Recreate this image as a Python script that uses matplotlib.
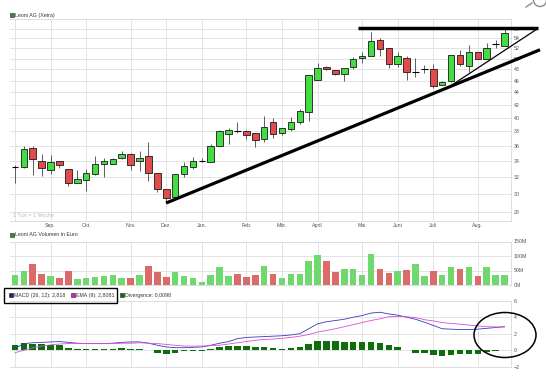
import matplotlib
matplotlib.use("Agg")
import matplotlib.pyplot as plt
from matplotlib.patches import Rectangle, Ellipse
from matplotlib.lines import Line2D
from matplotlib.ticker import FixedLocator, NullLocator

plt.rcParams["font.family"] = ["Liberation Sans", "DejaVu Sans"]

# weekly candles, week 0 = early August of the previous year
opens = [33.2, 33.2, 35.6, 34.0, 32.8, 33.9, 33.0, 31.3, 31.6, 32.3, 33.6, 33.6, 34.3, 34.9,
         33.9, 34.6, 32.5, 30.5, 29.6, 32.3, 33.2, 33.9, 33.8, 36.0, 37.6, 38.1, 38.1, 37.7,
         36.9, 39.3, 37.7, 38.3, 39.4, 40.8, 46.1, 48.5, 47.9, 47.1, 48.4, 50.1, 50.5, 53.7,
         52.0, 49.0, 50.2, 47.5, 48.0, 48.0, 45.2, 45.9, 50.7, 48.7, 51.2, 49.9, 52.8, 52.5]
highs = [33.4, 35.9, 35.9, 34.9, 34.7, 33.9, 33.0, 32.8, 32.9, 34.6, 34.4, 34.3, 35.3, 35.0,
         35.3, 36.5, 32.5, 30.5, 32.3, 33.8, 34.5, 34.3, 36.2, 38.2, 38.5, 39.3, 38.2, 37.7,
         40.3, 39.9, 38.5, 40.1, 41.4, 47.0, 49.1, 48.6, 47.9, 48.2, 50.3, 51.2, 55.2, 54.1,
         52.0, 51.3, 50.5, 50.2, 48.8, 49.0, 46.0, 50.7, 51.7, 52.6, 51.3, 53.0, 53.7, 56.0]
lows = [31.3, 33.1, 32.2, 32.1, 32.3, 33.1, 30.9, 31.2, 30.3, 32.2, 32.0, 33.6, 34.2, 32.8,
        32.7, 31.5, 30.2, 29.1, 29.6, 32.0, 33.0, 33.8, 33.8, 36.0, 36.2, 37.7, 36.9, 35.8,
        36.5, 37.1, 37.5, 38.1, 39.1, 39.5, 46.1, 47.9, 47.0, 45.9, 48.0, 49.2, 50.5, 50.4,
        48.3, 48.5, 46.1, 46.6, 47.3, 44.8, 45.2, 45.8, 48.6, 47.6, 50.0, 49.9, 52.0, 52.5]
closes = [33.2, 35.5, 34.2, 33.1, 33.8, 33.4, 31.2, 31.7, 32.4, 33.6, 33.9, 34.2, 34.9, 33.4,
          34.4, 32.4, 30.6, 29.5, 32.3, 33.3, 33.9, 33.9, 36.0, 38.0, 38.2, 38.1, 37.5, 36.8,
          38.6, 37.6, 38.4, 39.3, 41.0, 47.0, 48.2, 48.0, 47.2, 48.2, 49.9, 50.4, 53.5, 51.8,
          49.0, 50.4, 47.6, 47.5, 48.0, 45.0, 45.8, 50.6, 48.9, 51.3, 50.0, 52.0, 52.8, 55.1]

# volume in million euro, u = up week, d = down week
volume = [35, 49, 73, 37, 32, 23, 49, 20, 25, 28, 32, 34, 25, 23, 35, 66, 44, 27, 44, 32,
          25, 12, 35, 61, 32, 37, 26, 35, 66, 39, 25, 37, 39, 83, 103, 83, 44, 55, 56, 34,
          107, 55, 41, 49, 51, 72, 31, 49, 33, 63, 56, 63, 32, 61, 35, 35]
vol_dir = ("uuddudduuuuuudu" "ddd" "uuuuuuu" "ddd" "u" "d" "uuuuu" "dd" "uuuu" "dd"
           "u" "d" "uu" "d" "uu" "d" "u" "d" "uuu")

macd = [0.2, 0.8, 0.9, 0.95, 1.0, 1.05, 0.95, 0.85, 0.8, 0.8, 0.8, 0.85, 0.95, 1.0, 1.0,
        0.85, 0.6, 0.4, 0.3, 0.3, 0.35, 0.4, 0.6, 0.85, 1.05, 1.4, 1.55, 1.6, 1.65, 1.7,
        1.75, 1.85, 2.0, 2.6, 3.2, 3.45, 3.6, 3.75, 4.0, 4.2, 4.5, 4.6, 4.4, 4.25, 4.0,
        3.75, 3.4, 3.0, 2.6, 2.55, 2.5, 2.5, 2.55, 2.65, 2.75, 2.85]
signal = [-0.3, 0.0, 0.3, 0.5, 0.65, 0.75, 0.8, 0.8, 0.8, 0.8, 0.8, 0.8, 0.85, 0.85, 0.9,
          0.85, 0.8, 0.7, 0.6, 0.5, 0.5, 0.5, 0.55, 0.6, 0.75, 0.9, 1.05, 1.2, 1.3, 1.35,
          1.45, 1.55, 1.7, 1.9, 2.2, 2.4, 2.6, 2.85, 3.1, 3.35, 3.6, 3.8, 4.05, 4.1, 4.05,
          3.95, 3.7, 3.55, 3.35, 3.25, 3.15, 3.05, 2.95, 2.85, 2.82, 2.81]
divergence = [0.6, 0.9, 0.8, 0.7, 0.6, 0.6, 0.3, 0.2, 0.2, 0.2, 0.2, 0.2, 0.3, 0.2, 0.1,
              0.05, -0.3, -0.5, -0.3, -0.15, -0.1, -0.1, 0.15, 0.4, 0.5, 0.5, 0.45, 0.35,
              0.35, 0.3, 0.2, 0.3, 0.4, 0.8, 1.1, 1.15, 1.1, 1.05, 1.0, 1.0, 1.0, 0.9, 0.6,
              0.4, 0.05, -0.3, -0.3, -0.6, -0.7, -0.55, -0.5, -0.5, -0.4, -0.2, -0.1, 0.05]

month_weeks = [4, 8, 13, 17, 21, 26, 30, 34, 39, 43, 47, 52]
month_labels = ["Sep.", "Okt.", "Nov.", "Dez.", "Jan.", "Feb.", "Mär.", "April",
                "Mai", "Juni", "Juli", "Aug."]
price_ticks = list(range(28, 57, 2))

# hand drawn trend lines (week, price)
support_line = ([16.97, 58.99], [28.97, 51.7])
steep_line = ([48.54, 58.65], [44.7, 55.9])
top_line = ([38.54, 58.76], [56.2, 56.2])

GREEN = "#43dd43"
RED = "#e34a4a"
VGREEN = "#6fd86f"
VRED = "#db6b6b"
GRID = "#e3e3e3"
TXT = "#555555"
FS = 3.8

W, H = 546, 379
fig = plt.figure(figsize=(W / 100, H / 100), dpi=100)


def panel(top, bottom):
    a = fig.add_axes([10 / W, 1 - bottom / H, 501 / W, (bottom - top) / H])
    a.set_xlim(-0.56, 55.73)
    a.set_axisbelow(True)
    a.set_xticks([0] + month_weeks)
    a.set_xticklabels([""] + month_labels)
    a.grid(color=GRID, lw=0.7)
    a.yaxis.tick_right()
    a.tick_params(length=0, labelsize=FS, labelcolor=TXT, pad=2)
    for s in a.spines.values():
        s.set_color("#dddddd")
        s.set_linewidth(0.7)
    a.spines["left"].set_visible(False)
    return a


# price panel
ax = panel(19.3, 220.7)
ax.set_yscale("log")
ax.set_ylim(27.1, 58)
ax.yaxis.set_major_locator(FixedLocator(price_ticks))
ax.yaxis.set_minor_locator(NullLocator())
ax.set_yticklabels([str(t) for t in price_ticks])
ax.tick_params(axis="x", pad=2)

for i in range(len(opens)):
    o, h, l, c = opens[i], highs[i], lows[i], closes[i]
    ax.vlines(i, l, h, color="#444444", lw=0.6, zorder=2)
    if abs(c - o) < 0.05:
        ax.hlines(o, i - 0.37, i + 0.37, color="black", lw=0.8, zorder=3)
    else:
        ax.add_patch(Rectangle((i - 0.37, min(o, c)), 0.74, abs(c - o),
                               fc=GREEN if c > o else RED, ec="#1a1a1a", lw=0.6, zorder=3))

for xs, ys, lw in [(support_line[0], support_line[1], 2.3),
                   (steep_line[0], steep_line[1], 0.9),
                   (top_line[0], top_line[1], 2.5)]:
    ax.plot(xs, ys, color="black", lw=lw, clip_on=False, zorder=5, solid_capstyle="butt")

ax.text(0.005, 0.012, "1 Tick = 1 Woche", transform=ax.transAxes, fontsize=FS,
        color="#bbbbbb", va="bottom")

# volume panel
vax = panel(241.5, 285)
vax.set_ylim(0, 150)
vax.set_yticks([0, 50, 100, 150])
vax.set_yticklabels(["0M", "50M", "100M", "150M"])
vax.set_xticklabels([])
vax.bar(range(len(volume)), volume, width=0.74,
        color=[VGREEN if d == "u" else VRED for d in vol_dir], zorder=2)

# MACD panel
max_ = panel(300.7, 366.7)
max_.set_ylim(-2, 6)
max_.set_yticks([-2, 0, 2, 4, 6])
max_.set_xticklabels([])
max_.bar(range(len(divergence)), divergence, width=0.74, color="#0b6e0b", zorder=2)
max_.plot(range(len(macd)), macd, color="#3a3ab8", lw=0.6, zorder=3)
max_.plot(range(len(signal)), signal, color="#d84fd8", lw=0.6, zorder=3)


def swatch(x, y, color):
    fig.add_artist(Rectangle((x / W, 1 - (y + 2) / H), 4 / W, 4 / H, fc=color,
                             ec="#222222", lw=0.4, transform=fig.transFigure))


def label(x, y, s):
    fig.text(x / W, 1 - y / H, s, fontsize=FS, color="#333333", va="center", ha="left")


swatch(10, 15, "#3a8a3a")
label(15, 15, "Leoni AG (Xetra)")
swatch(10, 235, "#3a8a3a")
label(15, 235, "Leoni AG Volumen in Euro")

fig.add_artist(Rectangle((4 / W, 1 - 302.5 / H), 113 / W, 15 / H, fill=False,
                         ec="black", lw=1.0, transform=fig.transFigure))
swatch(9, 295, "#1d1d8c")
label(14, 295, "MACD (26, 12): 2,818")
swatch(71, 295, "#cc22cc")
label(76, 295, "EMA (9): 2,8081")
swatch(120, 295, "#0b6e0b")
label(125, 295, "Divergence: 0,0098")

fig.add_artist(Ellipse((505 / W, 1 - 335 / H), 62 / W, 45 / H, fill=False,
                       ec="black", lw=1.1, transform=fig.transFigure))

# zoom icon, cut off at the top edge
fig.add_artist(Ellipse((540 / W, 1 - 0 / H), 13 / W, 13 / H, fill=False,
                       ec="#8a8a8a", lw=1.0, transform=fig.transFigure))
fig.add_artist(Line2D([526 / W, 532 / W], [1 - 7 / H, 1 - 3 / H], color="#8a8a8a",
                      lw=1.0, transform=fig.transFigure))

fig.savefig("out.png", dpi=100, facecolor="white")
